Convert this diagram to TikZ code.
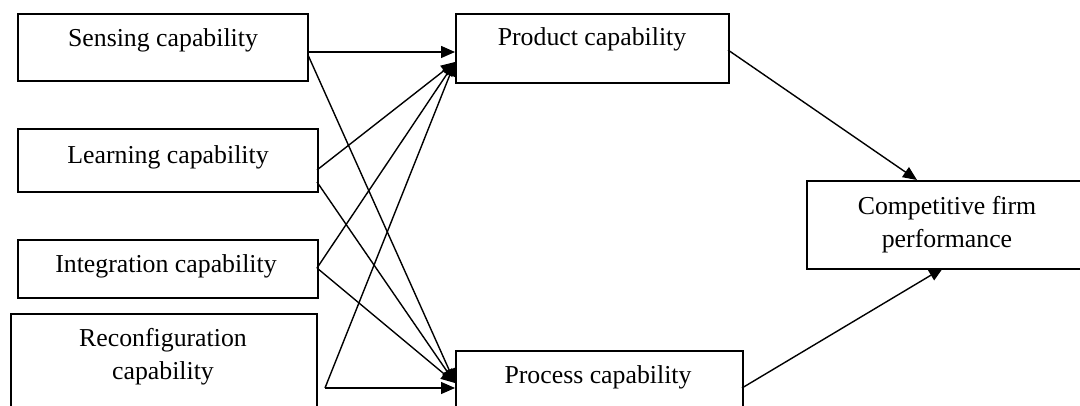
\documentclass[tikz,border=0pt]{standalone}
\usepackage{fontspec}
\setmainfont{Liberation Serif}
\usetikzlibrary{arrows.meta}
\begin{document}
\begin{tikzpicture}[x=1pt,y=-1pt,
  box/.style={draw, line width=1.9pt, rectangle, inner sep=0pt, anchor=north west},
  lbl/.style={inner sep=0pt, anchor=base, font=\fontsize{25.8}{33}\selectfont},
  arr/.style={line width=1.4pt, -{Triangle[length=14pt,width=12pt]}}]
\useasboundingbox (0,0) rectangle (1080,406);
\fill[white] (0,0) rectangle (1080,406);
\begin{scope}
\clip (0,0) rectangle (1080,406);
% left column
\node[box, minimum width=290pt, minimum height=67pt] (sense) at (17,13) {};
\node[box, minimum width=300pt, minimum height=63pt] (learn) at (17,128) {};
\node[box, minimum width=300pt, minimum height=58pt] (integ) at (17,239) {};
\node[box, minimum width=306pt, minimum height=110pt] (reconf) at (10,313) {};
% middle column
\node[box, minimum width=273pt, minimum height=69pt] (prod) at (455,13) {};
\node[box, minimum width=287pt, minimum height=70pt] (proc) at (455,350) {};
% outcome
\node[box, minimum width=290pt, minimum height=88pt] (comp) at (806,180) {};

% labels
\node[lbl] (senseT) at (163,47) {Sensing capability};
\node[lbl] (learnT) at (168,164) {Learning capability};
\node[lbl] (integT) at (166,273) {Integration capability};
\node[lbl] (reconfT1) at (163,347) {Reconfiguration};
\node[lbl] (reconfT2) at (163,380) {capability};
\node[lbl] (prodT) at (592,46) {Product capability};
\node[lbl] (procT) at (598,383) {Process capability};
\node[lbl] (compT1) at (947,215) {Competitive firm};
\node[lbl] (compT2) at (947,248) {performance};

% attachment points
\coordinate (sA) at (308,52);
\coordinate (sB) at (308,55);
\coordinate (lA) at (317,170);
\coordinate (lB) at (317,182);
\coordinate (iA) at (317,268);
\coordinate (rA) at (325,388);
\coordinate (pIn1) at (455,52);
\coordinate (pIn2) at (455,62);
\coordinate (qIn1) at (455,383);
\coordinate (qIn2) at (455,388);
\coordinate (pOut) at (728,50);
\coordinate (qOut) at (742,388);
\coordinate (cIn1) at (917,180);
\coordinate (cIn2) at (943,268);

% paths into product capability
\draw[arr] (sA) -- (pIn1);
\draw[arr] (lA) -- (pIn2);
\draw[arr] (iA) -- (pIn2);
\draw[arr] (rA) -- (pIn2);
% paths into process capability
\draw[arr] (sB) -- (qIn1);
\draw[arr] (lB) -- (qIn1);
\draw[arr] (iA) -- (qIn1);
\draw[arr] (rA) -- (qIn2);
% paths into performance
\draw[arr] (pOut) -- (cIn1);
\draw[arr] (qOut) -- (cIn2);
\end{scope}
\end{tikzpicture}
\end{document}
